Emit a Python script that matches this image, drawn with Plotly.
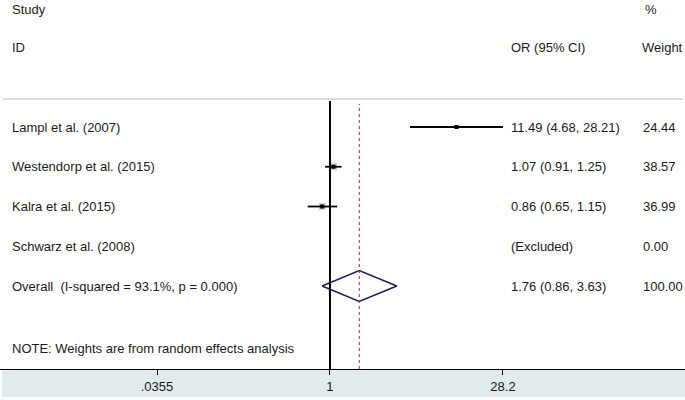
import plotly.graph_objects as go

# study data
studies = ["Lampl et al. (2007)", "Westendorp et al. (2015)", "Kalra et al. (2015)", "Schwarz et al. (2008)"]
odds_ratio = [11.49, 1.07, 0.86, None]
ci_low = [4.68, 0.91, 0.65, None]
ci_high = [28.21, 1.25, 1.15, None]
or_text = ["11.49 (4.68, 28.21)", "1.07 (0.91, 1.25)", "0.86 (0.65, 1.15)", "(Excluded)"]
weights = [24.44, 38.57, 36.99, 0.00]

overall_label = "Overall  (I-squared = 93.1%, p = 0.000)"
overall_or = 1.76
overall_low = 0.86
overall_high = 3.63
overall_text = "1.76 (0.86, 3.63)"
overall_weight = "100.00"

tick_vals = [0.0355, 1, 28.2]
tick_text = [".0355", "1", "28.2"]

note = "NOTE: Weights are from random effects analysis"

FONT = "Liberation Sans, Arial, sans-serif"
FONT_SIZE = 13
W, H = 685, 400
PLOT_H = 369  # pixel height of the plot area (axis line position)

rows = list(range(1, len(studies) + 1))
overall_row = len(studies) + 1


def py(px):
    """ pixel from top to paper y coordinate """
    return 1 - px / PLOT_H


fig = go.Figure()

# weight boxes
valid = [i for i, v in enumerate(odds_ratio) if v is not None]
fig.add_trace(go.Scatter(
    x=[odds_ratio[i] for i in valid], y=[rows[i] for i in valid], mode="markers",
    marker=dict(symbol="square", size=[weights[i] * 0.21 for i in valid], color="#b4b4b4"),
    hoverinfo="skip", showlegend=False))

# confidence intervals
ci_x, ci_y = [], []
for i in valid:
    ci_x += [ci_low[i], ci_high[i], None]
    ci_y += [rows[i], rows[i], None]
fig.add_trace(go.Scatter(x=ci_x, y=ci_y, mode="lines", line=dict(color="black", width=1.8),
                         hoverinfo="skip", showlegend=False))

# point estimates
fig.add_trace(go.Scatter(
    x=[odds_ratio[i] for i in valid], y=[rows[i] for i in valid], mode="markers",
    marker=dict(symbol="square", size=4, color="black"), showlegend=False))

# overall diamond
h = 0.39
fig.add_trace(go.Scatter(
    x=[overall_low, overall_or, overall_high, overall_or, overall_low],
    y=[overall_row, overall_row - h, overall_row, overall_row + h, overall_row],
    mode="lines", line=dict(color="#1c1f5c", width=1.6), showlegend=False))

# no-effect line and overall dashed line
fig.add_shape(type="line", xref="x", yref="paper", x0=1, x1=1, y0=0, y1=py(101),
              line=dict(color="black", width=2))
fig.add_shape(type="line", xref="x", yref="paper", x0=overall_or, x1=overall_or, y0=0, y1=py(104),
              line=dict(color="#a0282d", width=1, dash="3px,3px"))

# thin separator under the header
fig.add_shape(type="line", xref="paper", yref="paper", x0=0.004, x1=0.997, y0=py(99), y1=py(99),
              line=dict(color="#d0d0d0", width=1.5))

# axis band below the plot
fig.add_shape(type="rect", xref="paper", yref="paper", x0=0.003, x1=1, y0=py(397), y1=0,
              fillcolor="#e1ebed", line=dict(width=0), layer="below")

ann = dict(showarrow=False, font=dict(family=FONT, size=FONT_SIZE, color="#1a1a1a"),
           xref="paper", yref="paper", yanchor="middle")

# header
fig.add_annotation(text="Study", x=10 / W, y=py(9), xanchor="left", **ann)
fig.add_annotation(text="ID", x=10 / W, y=py(47), xanchor="left", **ann)
fig.add_annotation(text="OR (95% CI)", x=509 / W, y=py(47), xanchor="left", **ann)
fig.add_annotation(text="%", x=643 / W, y=py(9), xanchor="left", **ann)
fig.add_annotation(text="Weight", x=640 / W, y=py(47), xanchor="left", **ann)

# study rows
ann_y = dict(ann, yref="y")
for r, name, txt, w in zip(rows, studies, or_text, weights):
    fig.add_annotation(text=name, x=10 / W, y=r, xanchor="left", **ann_y)
    fig.add_annotation(text=txt, x=509 / W, y=r, xanchor="left", **ann_y)
    fig.add_annotation(text="{:.2f}".format(w), x=641 / W, y=r, xanchor="left", **ann_y)

fig.add_annotation(text=overall_label, x=10 / W, y=overall_row, xanchor="left", **ann_y)
fig.add_annotation(text=overall_text, x=509 / W, y=overall_row, xanchor="left", **ann_y)
fig.add_annotation(text=overall_weight, x=641 / W, y=overall_row, xanchor="left", **ann_y)

fig.add_annotation(text=note, x=10 / W, y=py(348), xanchor="left", **ann)

# pixel 0 -> row, pixel PLOT_H -> row
top_row = (0 - 87.25) / 39.75
bottom_row = (PLOT_H - 87.25) / 39.75

fig.update_layout(
    width=W, height=H,
    margin=dict(l=0, r=0, t=0, b=H - PLOT_H),
    paper_bgcolor="white", plot_bgcolor="white",
    font=dict(family=FONT, size=FONT_SIZE, color="#1a1a1a"),
    showlegend=False,
    xaxis=dict(type="log", range=[-2.766, 2.976], tickvals=tick_vals, ticktext=tick_text,
               ticks="outside", ticklen=5, tickcolor="black", showline=True, linecolor="black",
               linewidth=1, showgrid=False, zeroline=False, fixedrange=True),
    yaxis=dict(range=[bottom_row, top_row], showticklabels=False, showgrid=False,
               zeroline=False, showline=False, fixedrange=True),
)

# drop the default page margin so the figure sits at the window's corner
fig.write_html("out.html", config={"displayModeBar": False},
               post_script="document.body.style.margin='0';document.body.style.overflow='hidden';")
